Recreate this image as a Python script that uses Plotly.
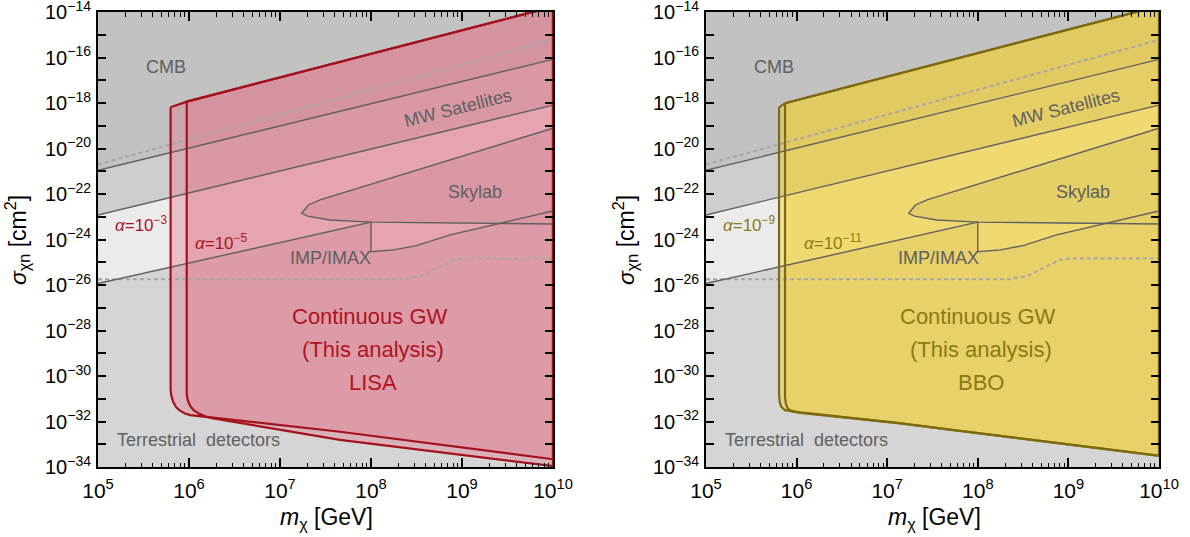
import plotly.graph_objects as go

# ---------------- data ----------------
X_LIMITS = [1e5, 1e10]          # m_chi [GeV]
Y_LIMITS = [1e-34, 1e-14]       # sigma [cm^2]

x_tick_vals = [1e5, 1e6, 1e7, 1e8, 1e9, 1e10]
x_tick_text = ["10<sup>5</sup>", "10<sup>6</sup>", "10<sup>7</sup>", "10<sup>8</sup>",
               "10<sup>9</sup>", "10<sup>10</sup>"]
y_tick_vals = [10.0 ** (-k) for k in range(34, 13, -1)]
y_tick_text = ["10<sup>\u2212%d</sup>" % k if k % 2 == 0 else "" for k in range(34, 13, -1)]
x_minor_vals = [d * 10.0 ** e for e in range(5, 10) for d in range(2, 10)]

# straight exclusion boundaries (mass endpoints shared)
edge_m = [1e5, 1e10]
cmb_sigma = [1.1e-21, 8.3e-17]          # CMB (solid)
cmb_dash_sigma = [2.0e-21, 5.9e-16]     # dashed upper line
mw_sigma = [1.2e-23, 8.1e-19]           # MW satellites (solid)

# IMP/IMAX upper boundary (with notch at 1e8 GeV)
imp_m = [1e5, 1e8, 1e8, 1.78e8, 3.16e8, 7.4e8, 1e10]
imp_sigma = [1.17e-26, 5.8e-24, 2.9e-25, 3.5e-25, 5.4e-25, 1.6e-24, 1.8e-23]

# Skylab closed contour
skylab_m = [1e10, 2.75e7, 2.05e7, 1.73e7, 2.0e7, 3.54e7, 1e8, 1e10]
skylab_sigma = [7.8e-20, 5.5e-23, 3.3e-23, 1.41e-23, 1.07e-23, 7.2e-24, 5.8e-24, 4.8e-24]

# Terrestrial detectors (dashed upper boundary)
terr_m = [1e5, 2.24e8, 3.55e8, 5.62e8, 7.94e8, 1e9, 1e10]
terr_sigma = [1.78e-26, 1.78e-26, 2.5e-26, 6.3e-26, 1.26e-25, 1.45e-25, 1.45e-25]

# LISA, alpha = 1e-3
lisa_a3_m = [6.28e5, 9.44e5, 1e10, 1e10, 4.56e7, 1.026e6, 8.91e5, 7.96e5, 7.24e5, 6.71e5, 6.38e5, 6.28e5]
lisa_a3_sigma = [6.46e-19, 1.15e-18, 1.7e-14, 2.19e-34, 3.55e-33, 1.9e-32, 2.29e-32, 3.02e-32,
                 4.17e-32, 7.08e-32, 1.41e-31, 2.51e-31]
# LISA, alpha = 1e-5
lisa_a5_m = [9.44e5, 1e10, 1e10, 4.56e7, 1.845e6, 1.514e6, 1.265e6, 1.122e6, 1.026e6, 9.66e5, 9.44e5]
lisa_a5_sigma = [1.15e-18, 1.7e-14, 1.1e-34, 1.55e-33, 1.38e-32, 1.66e-32, 2.29e-32, 3.16e-32,
                 5.01e-32, 8.91e-32, 1.58e-31]
# BBO, alpha = 1e-9
bbo_a9_m = [6.40e5, 7.45e5, 1e10, 1e10, 4.9e7, 1.38e7, 1.096e6, 7.41e5, 6.76e5, 6.49e5, 6.40e5]
bbo_a9_sigma = [6.46e-19, 9.77e-19, 1.82e-14, 3.16e-34, 4.37e-33, 8.51e-33, 2.51e-32, 3.16e-32,
                4.47e-32, 7.94e-32, 1.58e-31]
# BBO, alpha = 1e-11
bbo_a11_m = [7.45e5, 1e10, 1e10, 4.9e7, 1.38e7, 1.096e6, 8.91e5, 7.94e5, 7.59e5, 7.45e5]
bbo_a11_sigma = [9.77e-19, 1.82e-14, 3.09e-34, 4.27e-33, 8.32e-33, 2.4e-32, 2.75e-32, 3.8e-32,
                 6.31e-32, 1.26e-31]

# ---------------- styles ----------------
FONT = "Liberation Sans, Arial, sans-serif"
BG_ALLOWED = "#ebebeb"
TERR_FILL = "#dcdcdc"
IMP_FILL = "#d5d5d5"
MW_FILL = "#cdcdcd"
SKY_FILL = "#cfcfcf"
CMB_FILL = "#c2c2c2"
GRAY_LINE = "#606060"
DASH_LINE = "#a6a6a6"
TEXT_GRAY = "#606060"

panels = [
    dict(xa="x", ya="y", fill="rgba(228,115,135,0.36)", line="#a3121c", text="#b0141e",
         outer=(lisa_a3_m, lisa_a3_sigma), inner=(lisa_a5_m, lisa_a5_sigma),
         a_outer="<i>\u03b1</i>=10<sup>\u22123</sup>", a_inner="<i>\u03b1</i>=10<sup>\u22125</sup>",
         name="LISA", dx=0),
    dict(xa="x2", ya="y2", fill="rgba(242,208,45,0.40)", line="#7d6a0e", text="#8c7a12",
         outer=(bbo_a9_m, bbo_a9_sigma), inner=(bbo_a11_m, bbo_a11_sigma),
         a_outer="<i>\u03b1</i>=10<sup>\u22129</sup>", a_inner="<i>\u03b1</i>=10<sup>\u221211</sup>",
         name="BBO", dx=608),
]

fig = go.Figure()
ytop, ybot = Y_LIMITS[1], Y_LIMITS[0]

def poly(m, s, xa, ya, fillcolor):
    fig.add_trace(go.Scatter(x=m, y=s, xaxis=xa, yaxis=ya, mode="lines", fill="toself",
                             fillcolor=fillcolor, line=dict(width=0), hoverinfo="skip",
                             showlegend=False))

def line(m, s, xa, ya, color, width, dash="solid"):
    fig.add_trace(go.Scatter(x=m, y=s, xaxis=xa, yaxis=ya, mode="lines",
                             line=dict(color=color, width=width, dash=dash),
                             hoverinfo="skip", showlegend=False))

for p in panels:
    xa, ya = p["xa"], p["ya"]
    # gray exclusion fills
    poly(terr_m + [edge_m[1], edge_m[0]], terr_sigma + [ybot, ybot], xa, ya, TERR_FILL)
    poly(imp_m + [edge_m[1], edge_m[0]], imp_sigma + [ybot, ybot], xa, ya, IMP_FILL)
    poly(skylab_m, skylab_sigma, xa, ya, SKY_FILL)
    poly(edge_m + [edge_m[1], edge_m[0]], mw_sigma + [ytop, ytop], xa, ya, MW_FILL)
    poly(edge_m + [edge_m[1], edge_m[0]], cmb_sigma + [ytop, ytop], xa, ya, CMB_FILL)
    # GW sensitivity fills
    poly(p["outer"][0], p["outer"][1], xa, ya, p["fill"])
    poly(p["inner"][0], p["inner"][1], xa, ya, p["fill"])
    # gray boundary lines
    line(edge_m, cmb_dash_sigma, xa, ya, DASH_LINE, 2, "4px,3px")
    line(terr_m, terr_sigma, xa, ya, DASH_LINE, 2, "4px,3px")
    line(edge_m, cmb_sigma, xa, ya, GRAY_LINE, 1.4)
    line(edge_m, mw_sigma, xa, ya, GRAY_LINE, 1.4)
    line(imp_m, imp_sigma, xa, ya, GRAY_LINE, 1.4)
    line(skylab_m, skylab_sigma, xa, ya, GRAY_LINE, 1.4)
    # GW outlines (closed)
    for m, s in (p["outer"], p["inner"]):
        line(m + m[:1], s + s[:1], xa, ya, p["line"], 2.2)

W, H = 1190, 537
def px(x, y):
    return x / W, 1 - y / H

annotations = []
def ann(text, x, y, color, size, angle=0):
    ax, ay = px(x, y)
    annotations.append(dict(text=text, x=ax, y=ay, xref="paper", yref="paper",
                            xanchor="center", yanchor="middle", showarrow=False,
                            textangle=angle, font=dict(family=FONT, size=size, color=color)))

for p in panels:
    d = p["dx"]
    ann("CMB", 166 + d, 67, TEXT_GRAY, 18)
    ann("MW Satellites", 458 + d, 108, TEXT_GRAY, 18, -14)
    ann("Skylab", 475 + d, 192, TEXT_GRAY, 18)
    ann("IMP/IMAX", 330 + d, 258, TEXT_GRAY, 18)
    ann("Terrestrial\u00a0 detectors", 198 + d, 440, TEXT_GRAY, 18)
    ann(p["a_outer"], 141 + d, 224, p["text"], 17)
    ann(p["a_inner"], 221 + d + (4 if d else 0), 242, p["text"], 17)
    ann("Continuous GW", 370 + d, 316, p["text"], 22)
    ann("(This analysis)", 373 + d, 349, p["text"], 22)
    ann(p["name"], 373 + d, 382, p["text"], 22)
    ann("<i>\u03c3</i><sub>\u03c7n</sub> [cm<sup>2</sup>]", 17 + d, 240, "black", 23, -90)
    ann("<i>m</i><sub>\u03c7</sub> [GeV]", 326 + d, 518, "black", 23)

def xaxis(domain, anchor):
    return dict(type="log", range=[5 - 1e-6, 10 + 1e-6], domain=domain, anchor=anchor,
                automargin=False,
                showline=True, linewidth=2, linecolor="black", mirror="allticks",
                ticks="inside", ticklen=9, tickwidth=1.5, tickcolor="black",
                tickmode="array", tickvals=x_tick_vals, ticktext=x_tick_text,
                minor=dict(tickmode="array", tickvals=x_minor_vals, ticks="inside",
                           ticklen=4.5, tickwidth=1.2, tickcolor="black", showgrid=False),
                showgrid=False, zeroline=False, ticklabelstandoff=4,
                ticklabeloverflow="allow",
                tickfont=dict(family=FONT, size=21, color="black"))

def yaxis(anchor):
    return dict(type="log", range=[-34 - 1e-6, -14 + 1e-6], domain=[1 - 467 / H, 1 - 12 / H],
                anchor=anchor, automargin=False,
                showline=True, linewidth=2, linecolor="black", mirror="allticks",
                ticks="inside", ticklen=8, tickwidth=1.5, tickcolor="black",
                tickmode="array", tickvals=y_tick_vals, ticktext=y_tick_text,
                showgrid=False, zeroline=False, ticklabelstandoff=1,
                ticklabeloverflow="allow",
                tickfont=dict(family=FONT, size=20, color="black"))

fig.update_layout(
    width=W, height=H, margin=dict(l=0, r=0, t=0, b=0, autoexpand=False),
    paper_bgcolor="white", plot_bgcolor=BG_ALLOWED,
    xaxis=xaxis([98 / W, 553 / W], "y"),
    yaxis=yaxis("x"),
    xaxis2=xaxis([706 / W, 1159 / W], "y2"),
    yaxis2=yaxis("x2"),
    annotations=annotations,
    showlegend=False,
)

fig.write_html("out.html")
